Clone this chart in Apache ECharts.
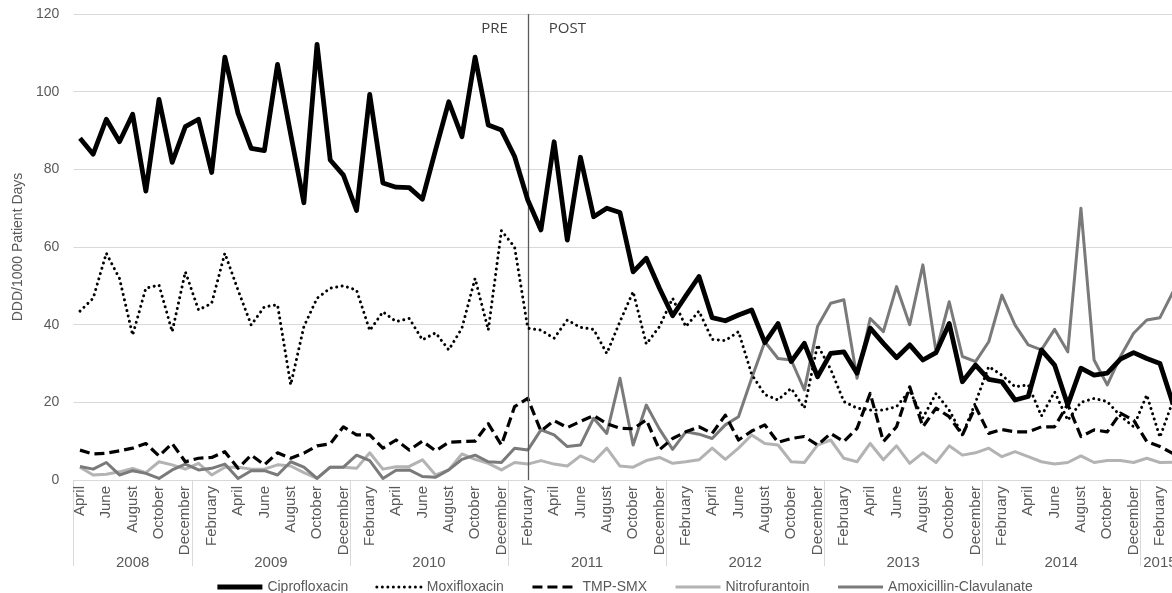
<!DOCTYPE html>
<html>
<head>
<meta charset="utf-8">
<title>Antibiotic use, DDD/1000 patient days</title>
<script src="https://cdn.jsdelivr.net/npm/echarts@6/dist/echarts.min.js"></script>
<style>
  html, body { margin: 0; padding: 0; background: #ffffff; overflow: hidden; }
  /* the plot runs on past the right edge of the window */
  #chart { width: 1190px; height: 593px; }
</style>
</head>
<body>
<div id="chart"></div>
<script>
// Month names used for the category labels
const monthNames = ['January', 'February', 'March', 'April', 'May', 'June',
  'July', 'August', 'September', 'October', 'November', 'December'];
// Observation window: April 2008 to March 2015
const firstYear = 2008, firstMonthIndex = 3;
const lastYear = 2015, lastMonthIndex = 2;
// Month in which the intervention starts, and the period captions
const interventionMonth = 'February 2011';
const periodLabels = ['PRE', 'POST'];

// Monthly values, DDD/1000 patient days
const ciprofloxacin = [
  88.0, 83.9, 92.9, 87.1, 94.2, 74.4, 98.0, 81.8, 91.0,
  92.9, 79.2, 108.9, 94.4, 85.4, 84.8, 107.0, 89.0, 71.4, 112.2, 82.4, 78.5,
  69.4, 99.3, 76.5, 75.4, 75.3, 72.3, 85.0, 97.4, 88.4, 108.9, 91.4, 90.1,
  83.3, 72.1, 64.4, 87.1, 61.8, 83.1, 67.8, 70.0, 68.9, 53.6, 57.1, 49.4,
  42.3, 47.4, 52.4, 41.8, 41.0, 42.5, 43.8, 35.4, 40.3, 30.5, 35.2, 26.6,
  32.6, 33.0, 27.5, 39.1, 35.2, 31.5, 34.8, 30.9, 32.8, 40.3, 25.3, 29.6,
  25.9, 25.3, 20.6, 21.5, 33.5, 29.6, 19.3, 28.8, 27.0, 27.5, 31.1, 32.8,
  31.3, 30.0, 19.5
];
const moxifloxacin = [
  43.5, 46.8, 58.4, 51.9, 37.3, 49.4, 50.2, 38.2, 53.6,
  43.8, 45.5, 58.4, 48.9, 39.9, 44.6, 45.1, 24.5, 39.5, 46.8, 49.4, 50.0,
  48.9, 38.5, 43.3, 40.8, 41.6, 36.1, 37.9, 33.5, 39.1, 51.9, 38.6, 64.2,
  60.0, 39.1, 38.6, 36.5, 41.2, 39.3, 38.8, 32.6, 40.8, 48.5, 35.0, 39.5,
  46.8, 39.5, 43.5, 36.2, 35.9, 38.2, 27.2, 22.0, 20.6, 23.6, 18.5, 34.8,
  28.5, 20.2, 18.5, 18.0, 18.0, 18.9, 23.0, 16.0, 22.3, 18.0, 11.6, 20.0,
  29.2, 27.0, 24.0, 24.5, 16.5, 22.7, 15.4, 20.0, 21.0, 20.2, 16.5, 13.7,
  21.9, 11.0, 20.5
];
const tmpSmx = [
  7.7, 6.7, 6.9, 7.5, 8.2, 9.4, 6.2, 9.4, 4.7,
  5.6, 5.8, 7.3, 3.0, 6.4, 3.9, 7.0, 5.6, 6.9, 8.8, 9.3, 13.7,
  11.6, 11.6, 8.2, 10.3, 7.7, 10.0, 7.5, 9.7, 9.9, 10.0, 14.5, 9.0,
  18.9, 21.0, 12.6, 15.3, 13.5, 15.1, 16.6, 14.5, 13.3, 13.2, 15.5, 7.8,
  10.7, 12.4, 13.7, 12.0, 16.7, 10.3, 12.6, 14.2, 9.7, 10.7, 11.2, 9.0,
  12.0, 9.9, 13.3, 22.3, 9.9, 13.7, 24.0, 13.7, 18.5, 16.3, 11.6, 18.9,
  12.0, 13.0, 12.4, 12.4, 13.7, 13.7, 19.5, 11.2, 12.9, 12.4, 17.2, 15.4,
  9.9, 8.6, 6.8
];
const nitrofurantoin = [
  3.3, 1.3, 1.5, 2.1, 3.0, 1.9, 4.7, 3.9, 2.8,
  4.3, 1.3, 3.3, 3.3, 2.8, 2.8, 3.9, 3.6, 1.9, 0.4, 3.3, 3.3,
  3.0, 7.0, 2.8, 3.4, 3.5, 5.2, 1.3, 2.6, 6.7, 5.3, 4.3, 2.6,
  4.5, 4.1, 5.0, 4.1, 3.6, 6.2, 4.7, 8.2, 3.6, 3.3, 5.0, 5.8,
  4.3, 4.7, 5.2, 8.2, 5.3, 8.2, 11.6, 9.4, 9.0, 4.7, 4.5, 9.0,
  10.3, 5.6, 4.7, 9.4, 5.2, 8.8, 4.3, 7.0, 4.5, 8.8, 6.4, 7.0,
  8.2, 6.0, 7.3, 6.0, 4.7, 4.1, 4.5, 6.2, 4.5, 5.0, 5.0, 4.5,
  5.6, 4.5, 4.6
];
const amoxicillinClavulanate = [
  3.5, 2.8, 4.5, 1.3, 2.4, 1.7, 0.4, 2.6, 4.1,
  2.6, 3.0, 4.1, 0.4, 2.4, 2.4, 1.3, 4.7, 3.3, 0.4, 3.3, 3.3,
  6.4, 5.0, 0.4, 2.5, 2.6, 0.9, 0.7, 2.6, 5.3, 6.4, 4.7, 4.5,
  8.2, 7.7, 12.9, 11.6, 8.6, 9.0, 15.9, 12.0, 26.2, 9.0, 19.3, 13.1,
  7.9, 12.4, 11.8, 10.7, 14.2, 16.3, 26.2, 35.6, 31.3, 30.9, 23.2, 39.5,
  45.5, 46.4, 26.2, 41.6, 38.2, 49.8, 40.0, 55.4, 33.0, 45.9, 31.8, 30.5,
  35.6, 47.6, 39.9, 34.8, 33.5, 38.8, 33.0, 70.0, 30.9, 24.5, 31.8, 37.8,
  41.2, 41.8, 48.5
];

// Y axis ticks
const yMin = 0, yMax = 120, yStep = 20;

// Build "Month Year" categories for the observation window
const categories = [];
for (let y = firstYear; y <= lastYear; y++) {
  const from = y === firstYear ? firstMonthIndex : 0;
  const to = y === lastYear ? lastMonthIndex : 11;
  for (let m = from; m <= to; m++) categories.push(monthNames[m] + ' ' + y);
}

// Year groups on the second axis row: boundaries and label centres
const yearBounds = [0];
const yearMids = [];
const yearLabelAt = {};
let groupStart = 0;
for (let i = 1; i <= categories.length; i++) {
  const prevYear = categories[i - 1].split(' ')[1];
  const curYear = i < categories.length ? categories[i].split(' ')[1] : null;
  if (curYear !== prevYear) {
    yearBounds.push(i);
    const mid = (groupStart + i) / 2;
    yearMids.push(mid);
    yearLabelAt[mid] = prevYear;
    groupStart = i;
  }
}

const axisGrey = '#d9d9d9';
const textGrey = '#595959';
const font = 'Liberation Sans, Arial, sans-serif';

// Series look: colour, width, dash pattern
const styles = {
  'Ciprofloxacin': { color: '#000000', width: 4.8, type: 'solid' },
  'Moxifloxacin': { color: '#000000', width: 3, type: [0.01, 5.5] },
  'TMP-SMX': { color: '#000000', width: 3.2, type: [10, 5] },
  'Nitrofurantoin': { color: '#b3b3b3', width: 3, type: 'solid' },
  'Amoxicillin-Clavulanate': { color: '#7a7a7a', width: 3, type: 'solid' }
};

function lineStyleOf(name) {
  const s = styles[name];
  const dotted = Array.isArray(s.type) && s.type[0] < 1;
  return { color: s.color, width: s.width, type: s.type, cap: dotted ? 'round' : 'butt', join: 'round' };
}

function lineSeries(name, data, extra) {
  return Object.assign({
    name: name,
    type: 'line',
    data: data,
    xAxisIndex: 0,
    yAxisIndex: 0,
    symbol: 'none',
    showSymbol: false,
    smooth: false,
    lineStyle: lineStyleOf(name),
    itemStyle: { color: styles[name].color },
    emphasis: { disabled: true }
  }, extra || {});
}

const legendNames = ['Ciprofloxacin', 'Moxifloxacin', 'TMP-SMX', 'Nitrofurantoin', 'Amoxicillin-Clavulanate'];

const chart = echarts.init(document.getElementById('chart'), null, { renderer: 'canvas' });

chart.setOption({
  animation: false,
  backgroundColor: '#ffffff',
  grid: { left: 73.4, right: 10.3, top: 14, bottom: 113, containLabel: false },
  legend: {
    left: 210,
    top: 575,
    itemWidth: 45,
    itemHeight: 14,
    itemGap: 27,
    // line-only keys: the point marker in each key is made invisible
    itemStyle: { opacity: 0, borderWidth: 0 },
    textStyle: { color: textGrey, fontSize: 14, fontFamily: font },
    data: legendNames.map(function (n) {
      return { name: n, lineStyle: lineStyleOf(n), itemStyle: { opacity: 0, borderWidth: 0 } };
    })
  },
  xAxis: [
    {
      type: 'category',
      data: categories,
      boundaryGap: true,
      position: 'bottom',
      axisLine: { show: true, lineStyle: { color: axisGrey, width: 1 } },
      axisTick: { show: false },
      splitLine: { show: false },
      axisLabel: {
        interval: 1,
        rotate: 90,
        margin: 6,
        color: textGrey,
        fontSize: 15,
        fontFamily: font,
        formatter: function (v) { return v.split(' ')[0]; }
      }
    },
    {
      type: 'value',
      min: 0,
      max: categories.length,
      position: 'bottom',
      axisLine: { show: false },
      splitLine: { show: false },
      axisTick: {
        show: true,
        customValues: yearBounds,
        length: 86,
        lineStyle: { color: axisGrey, width: 1 }
      },
      axisLabel: {
        show: true,
        customValues: yearMids,
        margin: 75,
        color: textGrey,
        fontSize: 15,
        fontFamily: font,
        formatter: function (v) { return yearLabelAt[v] || ''; }
      }
    }
  ],
  yAxis: {
    type: 'value',
    min: yMin,
    max: yMax,
    interval: yStep,
    name: 'DDD/1000 Patient Days',
    nameLocation: 'middle',
    nameGap: 48,
    nameRotate: 90,
    nameTextStyle: { color: textGrey, fontSize: 14, fontFamily: font },
    axisLine: { show: false },
    axisTick: { show: false },
    axisLabel: { color: textGrey, fontSize: 14, fontFamily: font, margin: 14 },
    splitLine: { show: true, lineStyle: { color: axisGrey, width: 1 } }
  },
  series: [
    lineSeries('Ciprofloxacin', ciprofloxacin, {
      z: 6,
      markLine: {
        silent: true,
        symbol: ['none', 'none'],
        animation: false,
        lineStyle: { color: '#5a5a5a', width: 1.3, type: 'solid' },
        label: { show: false },
        data: [{ xAxis: interventionMonth }]
      }
    }),
    lineSeries('Moxifloxacin', moxifloxacin, { z: 5 }),
    lineSeries('TMP-SMX', tmpSmx, { z: 4 }),
    lineSeries('Nitrofurantoin', nitrofurantoin, { z: 2 }),
    lineSeries('Amoxicillin-Clavulanate', amoxicillinClavulanate, { z: 3 })
  ]
});

// PRE / POST captions on either side of the intervention line, near the top of the plot
const lineX = chart.convertToPixel({ xAxisIndex: 0 }, interventionMonth);
const captionY = chart.convertToPixel({ yAxisIndex: 0 }, yMax) + 15;
const captionStyle = { fill: '#404040', fontSize: 15, fontFamily: "'Open Sans', sans-serif", verticalAlign: 'middle' };
chart.setOption({
  graphic: [
    { type: 'text', x: lineX - 20, y: captionY, silent: true,
      style: Object.assign({ text: periodLabels[0], align: 'right' }, captionStyle) },
    { type: 'text', x: lineX + 21, y: captionY, silent: true,
      style: Object.assign({ text: periodLabels[1], align: 'left' }, captionStyle) }
  ]
});
</script>
</body>
</html>
